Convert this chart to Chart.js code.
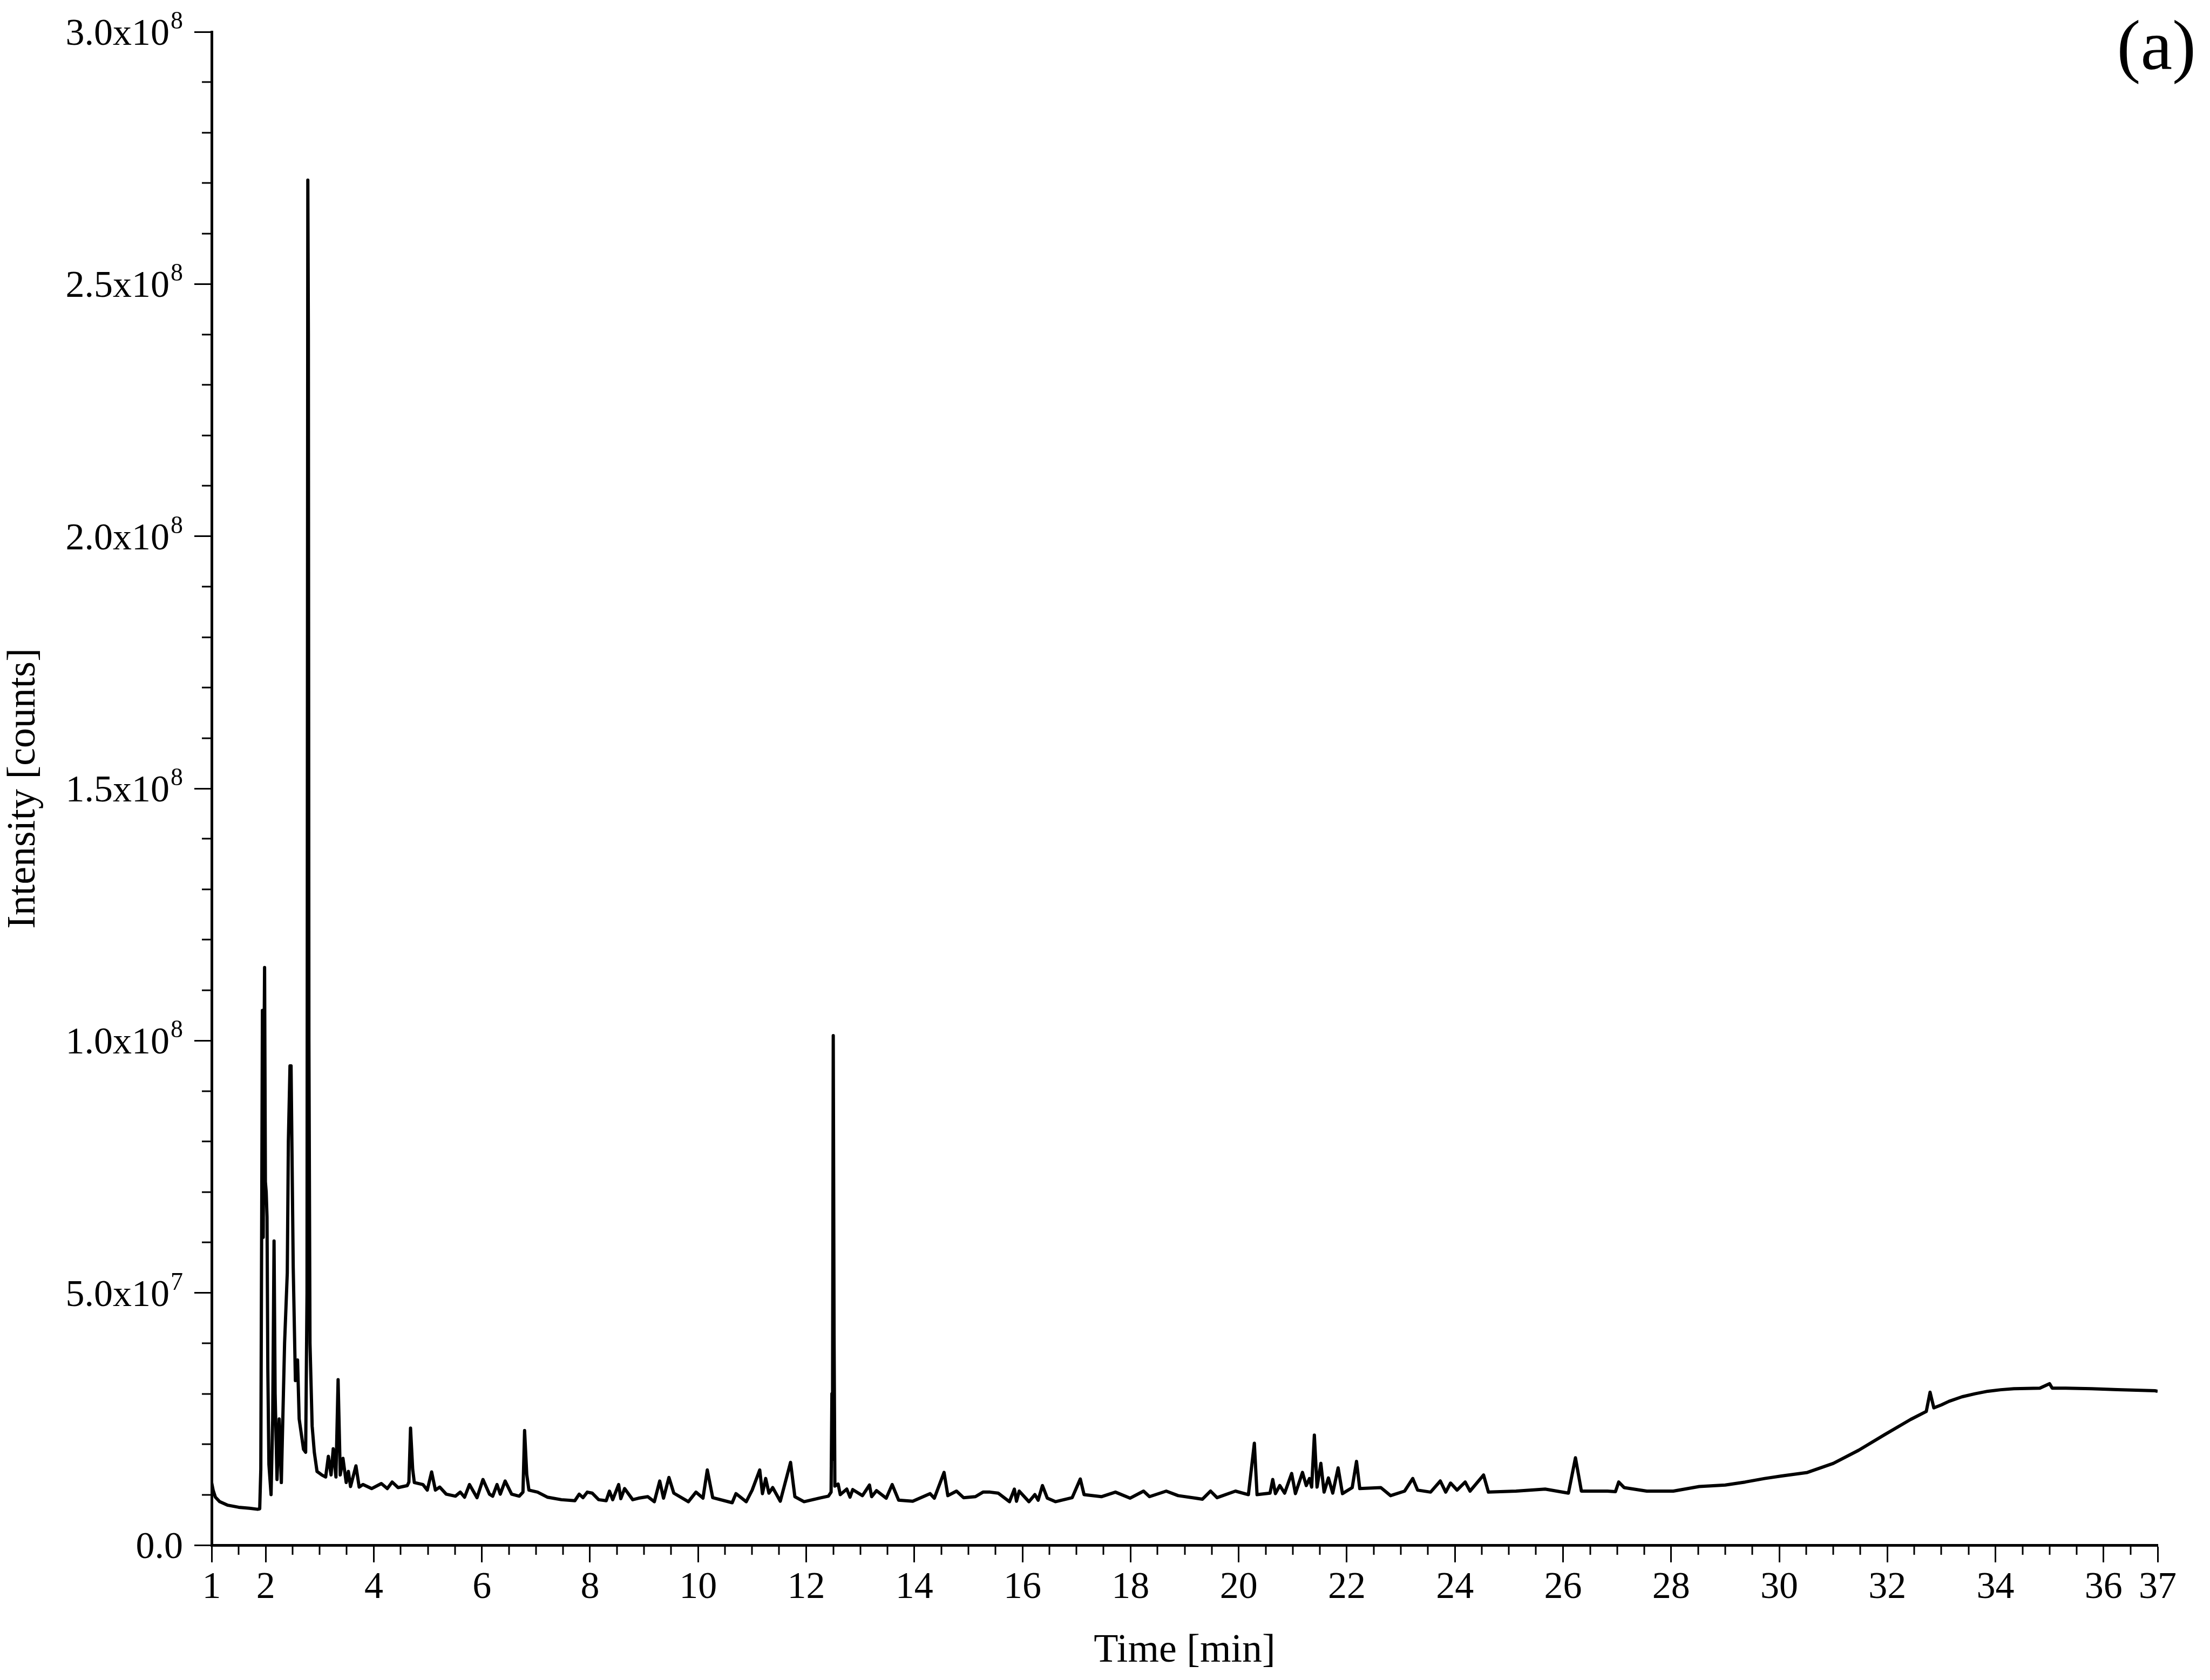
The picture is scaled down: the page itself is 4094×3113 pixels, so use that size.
<!DOCTYPE html>
<html>
<head>
<meta charset="utf-8">
<title>Chromatogram (a)</title>
<script src="https://cdn.jsdelivr.net/npm/chart.js@4.4.1/dist/chart.umd.min.js"></script>
<style>
    html, body { margin: 0; padding: 0; background: #fff; overflow: hidden; }
    #wrap { width: 4094px; height: 3113px; }
</style>
</head>
<body>
<div id="wrap"><canvas id="myChart" width="4094" height="3113"></canvas></div>
<script>
// retention time [min]
let timeMin = [
    1.00, 1.03, 1.07, 1.15, 1.30, 1.50, 1.70, 1.85, 1.89, 1.91, 1.925, 1.94, 1.955, 1.965, 1.98, 1.995,
    2.01, 2.025, 2.04, 2.06, 2.10, 2.13, 2.155, 2.175, 2.21, 2.25, 2.29, 2.35, 2.40, 2.42, 2.45, 2.47,
    2.51, 2.55, 2.59, 2.62, 2.70, 2.74, 2.765, 2.78, 2.79, 2.80, 2.82, 2.86, 2.90, 2.95, 3.04, 3.11,
    3.16, 3.21, 3.25, 3.30, 3.34, 3.38, 3.43, 3.49, 3.53, 3.57, 3.67, 3.73, 3.80, 3.96, 4.14, 4.25,
    4.34, 4.45, 4.62, 4.65, 4.68, 4.72, 4.75, 4.91, 4.99, 5.07, 5.14, 5.22, 5.34, 5.51, 5.60, 5.68,
    5.77, 5.91, 6.02, 6.14, 6.20, 6.28, 6.34, 6.43, 6.55, 6.69, 6.76, 6.79, 6.83, 6.87, 7.03, 7.21,
    7.47, 7.72, 7.80, 7.87, 7.95, 8.04, 8.16, 8.30, 8.36, 8.42, 8.53, 8.57, 8.64, 8.79, 8.90, 9.07,
    9.19, 9.29, 9.36, 9.46, 9.55, 9.82, 9.96, 10.09, 10.17, 10.27, 10.63, 10.70, 10.89, 11.00, 11.14, 11.19,
    11.25, 11.31, 11.38, 11.52, 11.71, 11.79, 11.96, 12.28, 12.41, 12.46, 12.475, 12.485, 12.50, 12.515, 12.53, 12.59,
    12.63, 12.75, 12.81, 12.86, 13.04, 13.17, 13.21, 13.30, 13.48, 13.59, 13.71, 13.97, 14.29, 14.37, 14.55, 14.62,
    14.78, 14.91, 15.13, 15.27, 15.40, 15.55, 15.76, 15.85, 15.89, 15.94, 16.12, 16.23, 16.29, 16.37, 16.46, 16.61,
    16.92, 17.07, 17.14, 17.46, 17.72, 17.99, 18.24, 18.35, 18.66, 18.88, 19.20, 19.33, 19.48, 19.60, 19.94, 20.18,
    20.29, 20.34, 20.58, 20.63, 20.68, 20.76, 20.85, 20.98, 21.05, 21.18, 21.25, 21.31, 21.35, 21.40, 21.45, 21.52,
    21.58, 21.66, 21.74, 21.84, 21.92, 22.10, 22.18, 22.24, 22.63, 22.81, 23.07, 23.22, 23.31, 23.55, 23.73, 23.83,
    23.92, 24.04, 24.19, 24.28, 24.53, 24.62, 25.13, 25.67, 26.10, 26.23, 26.34, 26.82, 26.97, 27.03, 27.13, 27.55,
    28.04, 28.52, 29.00, 29.37, 29.73, 30.04, 30.52, 31.00, 31.47, 31.95, 32.43, 32.72, 32.79, 32.86, 33.00, 33.14,
    33.38, 33.62, 33.86, 34.10, 34.34, 34.82, 35.00, 35.05, 35.30, 35.78, 36.26, 36.95, 37.00
];

// intensity in units of 1e7 counts
let intensityE7 = [
    1.24, 1.08, 0.95, 0.86, 0.79, 0.75, 0.73, 0.71, 0.72, 1.50, 6.00, 10.60, 6.10, 9.00, 11.45, 7.20,
    7.00, 6.50, 3.50, 1.60, 1.00, 2.50, 6.03, 3.00, 1.30, 2.50, 1.24, 4.00, 5.40, 8.00, 9.50, 9.50,
    5.50, 3.26, 3.67, 2.50, 1.90, 1.84, 5.00, 27.06, 24.00, 10.00, 4.00, 2.36, 1.84, 1.46, 1.39, 1.35,
    1.76, 1.39, 1.91, 1.35, 3.28, 1.39, 1.72, 1.24, 1.46, 1.16, 1.57, 1.15, 1.20, 1.12, 1.22, 1.12,
    1.25, 1.14, 1.18, 1.25, 2.32, 1.50, 1.24, 1.20, 1.09, 1.45, 1.09, 1.15, 1.01, 0.97, 1.05, 0.95,
    1.20, 0.94, 1.30, 1.01, 0.97, 1.20, 1.01, 1.27, 1.01, 0.97, 1.05, 2.27, 1.40, 1.09, 1.05, 0.95,
    0.90, 0.88, 1.01, 0.94, 1.05, 1.03, 0.90, 0.88, 1.07, 0.90, 1.20, 0.92, 1.12, 0.90, 0.93, 0.96,
    0.86, 1.27, 0.93, 1.34, 1.03, 0.86, 1.05, 0.93, 1.49, 0.94, 0.84, 1.02, 0.86, 1.09, 1.49, 1.02,
    1.32, 1.03, 1.14, 0.87, 1.64, 0.96, 0.86, 0.94, 0.97, 1.05, 3.00, 1.70, 10.10, 4.15, 1.17, 1.21,
    1.00, 1.11, 0.95, 1.10, 0.98, 1.19, 0.96, 1.08, 0.93, 1.20, 0.89, 0.87, 1.02, 0.93, 1.44, 0.98,
    1.07, 0.94, 0.96, 1.05, 1.05, 1.03, 0.86, 1.11, 0.87, 1.07, 0.86, 1.00, 0.89, 1.18, 0.93, 0.86,
    0.94, 1.31, 1.00, 0.96, 1.05, 0.93, 1.07, 0.96, 1.07, 0.98, 0.93, 0.91, 1.07, 0.94, 1.07, 1.00,
    2.02, 1.00, 1.03, 1.30, 1.02, 1.18, 1.03, 1.42, 1.02, 1.44, 1.18, 1.32, 1.15, 2.18, 1.15, 1.62,
    1.05, 1.33, 1.03, 1.53, 1.02, 1.14, 1.66, 1.12, 1.14, 0.98, 1.07, 1.32, 1.09, 1.05, 1.27, 1.05,
    1.23, 1.09, 1.25, 1.07, 1.39, 1.05, 1.07, 1.11, 1.03, 1.73, 1.07, 1.07, 1.06, 1.25, 1.14, 1.07,
    1.07, 1.16, 1.19, 1.25, 1.32, 1.37, 1.44, 1.62, 1.88, 2.19, 2.49, 2.65, 3.03, 2.72, 2.78, 2.85,
    2.94, 3.00, 3.05, 3.08, 3.10, 3.11, 3.20, 3.11, 3.11, 3.10, 3.08, 3.06, 3.05
];

// tick labels
let xLabels = [1, 2, 4, 6, 8, 10, 12, 14, 16, 18, 20, 22, 24, 26, 28, 30, 32, 34, 36, 37];
let yLabelValues = [0, 5e7, 1e8, 1.5e8, 2e8, 2.5e8, 3e8];
let yLabelBase = ['0.0', '5.0x10', '1.0x10', '1.5x10', '2.0x10', '2.5x10', '3.0x10'];
let yLabelExp = ['', '7', '8', '8', '8', '8', '8'];

const FONT = '"Liberation Serif", "DejaVu Serif", serif';

function isXMajor(v) {
    return xLabels.some(l => Math.abs(l - v) < 1e-6);
}
function isYMajor(v) {
    return Math.abs(v / 5e7 - Math.round(v / 5e7)) < 1e-6;
}

// short minor ticks, y labels with superscripts and the panel letter
const axisDecor = {
    id: 'axisDecor',
    afterDraw(chart) {
        const ctx = chart.ctx;
        const xs = chart.scales.x;
        const ys = chart.scales.y;
        ctx.save();
        ctx.strokeStyle = '#000';
        ctx.lineWidth = 3;
        ctx.beginPath();
        xs.ticks.forEach(t => {
            if (!isXMajor(t.value)) {
                let px = Math.round(xs.getPixelForValue(t.value));
                ctx.moveTo(px, xs.top);
                ctx.lineTo(px, xs.top + 18);
            }
        });
        ys.ticks.forEach(t => {
            if (!isYMajor(t.value)) {
                let py = Math.round(ys.getPixelForValue(t.value));
                ctx.moveTo(ys.right, py);
                ctx.lineTo(ys.right - 18, py);
            }
        });
        ctx.stroke();

        // y tick labels, mantissa x 10^exp
        ctx.fillStyle = '#000';
        ctx.textBaseline = 'alphabetic';
        ctx.textAlign = 'left';
        const rightEdge = 339;
        yLabelValues.forEach((v, i) => {
            let py = ys.getPixelForValue(v);
            ctx.font = '70px ' + FONT;
            let wBase = ctx.measureText(yLabelBase[i]).width;
            ctx.font = '46px ' + FONT;
            let wExp = yLabelExp[i] ? ctx.measureText(yLabelExp[i]).width + 2 : 0;
            let x0 = rightEdge - wBase - wExp;
            ctx.font = '70px ' + FONT;
            ctx.fillText(yLabelBase[i], x0, py + 24);
            if (yLabelExp[i]) {
                ctx.font = '46px ' + FONT;
                ctx.fillText(yLabelExp[i], x0 + wBase + 2, py - 6);
            }
        });

        // panel letter
        ctx.font = '132px ' + FONT;
        ctx.textAlign = 'right';
        ctx.fillText('(a)', 4068, 128);
        ctx.restore();
    }
};

let points = timeMin.map((t, i) => ({ x: t, y: intensityE7[i] * 1e7 }));

let ctx = document.getElementById('myChart').getContext('2d');
let myChart = new Chart(ctx, {
    type: 'line',
    data: {
        datasets: [{
            label: 'Intensity',
            data: points,
            borderColor: '#000',
            borderWidth: 6,
            borderJoinStyle: 'round',
            pointRadius: 0,
            tension: 0,
            fill: false
        }]
    },
    options: {
        responsive: false,
        animation: false,
        devicePixelRatio: 1,
        layout: { padding: { top: 59, right: 97, left: 0, bottom: 0 } },
        plugins: {
            legend: { display: false },
            tooltip: { enabled: false }
        },
        scales: {
            x: {
                type: 'linear',
                position: 'bottom',
                min: 1,
                max: 37,
                border: { display: true, color: '#000', width: 5 },
                grid: {
                    drawOnChartArea: false,
                    drawTicks: true,
                    tickLength: 32,
                    tickWidth: 3,
                    tickColor: c => isXMajor(c.tick.value) ? '#000' : 'rgba(0,0,0,0)'
                },
                ticks: {
                    stepSize: 0.5,
                    autoSkip: false,
                    maxRotation: 0,
                    padding: 6,
                    color: '#000',
                    font: { family: FONT, size: 70 },
                    callback: v => isXMajor(v) ? String(Math.round(v)) : ''
                },
                title: {
                    display: true,
                    text: 'Time [min]',
                    color: '#000',
                    font: { family: FONT, size: 74 },
                    padding: { top: 0, bottom: 9 }
                },
                afterFit: s => { s.height = 250; }
            },
            y: {
                type: 'linear',
                position: 'left',
                min: 0,
                max: 3e8,
                border: { display: true, color: '#000', width: 5 },
                grid: {
                    drawOnChartArea: false,
                    drawTicks: true,
                    tickLength: 32,
                    tickWidth: 3,
                    tickColor: c => isYMajor(c.tick.value) ? '#000' : 'rgba(0,0,0,0)'
                },
                ticks: {
                    stepSize: 1e7,
                    autoSkip: false,
                    display: false
                },
                title: {
                    display: true,
                    text: 'Intensity [counts]',
                    color: '#000',
                    font: { family: FONT, size: 74 },
                    padding: { top: 0, bottom: 0 }
                },
                afterFit: s => { s.width = 392; }
            }
        }
    },
    plugins: [axisDecor]
});
</script>
</body>
</html>
